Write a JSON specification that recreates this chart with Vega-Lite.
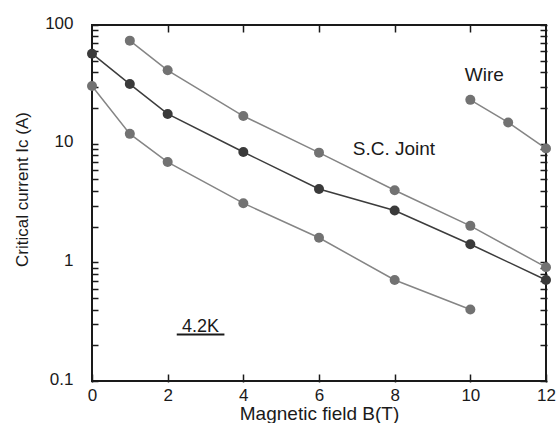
{
  "$schema": "https://vega.github.io/schema/vega-lite/v6.json",
  "width": 454,
  "height": 356,
  "autosize": {"type": "none"},
  "padding": {"left": 92, "top": 25, "right": 10, "bottom": 42},
  "background": "white",
  "config": {
    "view": {"stroke": "#1a1a1a", "strokeWidth": 2},
    "font": "Liberation Sans",
    "axis": {"grid": false, "domain": false, "ticks": true, "zindex": 1, "tickColor": "#1a1a1a", "tickWidth": 1.5, "labelColor": "#1a1a1a", "titleColor": "#1a1a1a", "titleFontWeight": "normal", "labelFont": "Liberation Sans", "titleFont": "Liberation Sans"}
  },
  "datasets": {
    "curves": [
      {"series": "upper", "B": 1, "Ic": 73.8},
      {"series": "upper", "B": 2, "Ic": 41.5},
      {"series": "upper", "B": 4, "Ic": 17.1},
      {"series": "upper", "B": 6, "Ic": 8.4},
      {"series": "upper", "B": 8, "Ic": 4.05},
      {"series": "upper", "B": 10, "Ic": 2.03},
      {"series": "upper", "B": 12, "Ic": 0.91},
      {"series": "joint", "B": 0, "Ic": 57.3},
      {"series": "joint", "B": 1, "Ic": 31.8},
      {"series": "joint", "B": 2, "Ic": 17.8},
      {"series": "joint", "B": 4, "Ic": 8.5},
      {"series": "joint", "B": 6, "Ic": 4.15},
      {"series": "joint", "B": 8, "Ic": 2.73},
      {"series": "joint", "B": 10, "Ic": 1.42},
      {"series": "joint", "B": 12, "Ic": 0.71},
      {"series": "lower", "B": 0, "Ic": 30.6},
      {"series": "lower", "B": 1, "Ic": 12.1},
      {"series": "lower", "B": 2, "Ic": 7.0},
      {"series": "lower", "B": 4, "Ic": 3.15},
      {"series": "lower", "B": 6, "Ic": 1.61},
      {"series": "lower", "B": 8, "Ic": 0.71},
      {"series": "lower", "B": 10, "Ic": 0.4},
      {"series": "wire", "B": 10, "Ic": 23.4},
      {"series": "wire", "B": 11, "Ic": 15.1},
      {"series": "wire", "B": 12, "Ic": 9.1}
    ]
  },
  "layer": [
    {
      "data": {"name": "curves"},
      "mark": {"type": "line", "strokeWidth": 1.5},
      "encoding": {
        "x": {
          "field": "B", "type": "quantitative",
          "scale": {"domain": [0, 12], "nice": false, "zero": false},
          "axis": {
            "orient": "bottom", "values": [0, 2, 4, 6, 8, 10, 12], "offset": -7, "tickSize": 8,
            "labelFontSize": 17, "labelPadding": 18, "labelBaseline": "alphabetic",
            "labelFlush": false, "labelOverlap": false,
            "title": "Magnetic field B(T)", "titleFontSize": 19, "titleY": 45.5,
            "titleBaseline": "alphabetic", "titleAnchor": "middle"
          }
        },
        "y": {
          "field": "Ic", "type": "quantitative",
          "scale": {"type": "log", "domain": [0.1, 100], "nice": false},
          "axis": {
            "orient": "left",
            "values": [0.1, 0.2, 0.3, 0.4, 0.5, 0.6, 0.7, 0.8, 0.9, 1, 2, 3, 4, 5, 6, 7, 8, 9, 10, 20, 30, 40, 50, 60, 70, 80, 90, 100],
            "offset": -6, "tickSize": 7,
            "labelExpr": "indexof([0.1, 1, 10, 100], datum.value) >= 0 ? datum.label : ''",
            "format": "~g",
            "labelFontSize": 17, "labelPadding": 18, "labelBaseline": "middle", "labelOffset": -2,
            "labelFlush": false, "labelOverlap": false,
            "title": "Critical current Ic (A)", "titleFontSize": 17, "titleAngle": -90,
            "titleX": -76, "titleY": 164, "titleBaseline": "middle", "titleAlign": "center"
          }
        },
        "detail": {"field": "series"},
        "color": {
          "field": "series", "type": "nominal",
          "scale": {"domain": ["upper", "joint", "lower", "wire"], "range": ["#858585", "#3c3c3c", "#858585", "#858585"]},
          "legend": null
        }
      }
    },
    {
      "data": {"name": "curves"},
      "mark": {"type": "point", "filled": true, "opacity": 1, "size": 100},
      "encoding": {
        "x": {
          "field": "B", "type": "quantitative",
          "axis": {"orient": "top", "values": [2, 4, 6, 8, 10], "offset": -7, "tickSize": 8, "labels": false, "title": null}
        },
        "y": {
          "field": "Ic", "type": "quantitative",
          "axis": {
            "orient": "right",
            "values": [0.1, 0.2, 0.3, 0.4, 0.5, 0.6, 0.7, 0.8, 0.9, 1, 2, 3, 4, 5, 6, 7, 8, 9, 10, 20, 30, 40, 50, 60, 70, 80, 90, 100],
            "offset": -6, "tickSize": 7,
            "labels": false, "title": null
          }
        },
        "color": {
          "field": "series", "type": "nominal",
          "scale": {"domain": ["upper", "joint", "lower", "wire"], "range": ["#727272", "#3a3a3a", "#727272", "#727272"]},
          "legend": null
        }
      }
    },
    {
      "data": {"values": [{"label": "Wire", "B": 10.37, "Ic": 38}, {"label": "S.C. Joint", "B": 7.98, "Ic": 9.02}]},
      "mark": {"type": "text", "fontSize": 19, "font": "Liberation Sans", "color": "#1a1a1a", "align": "center", "baseline": "middle"},
      "encoding": {
        "x": {"field": "B", "type": "quantitative", "axis": null},
        "y": {"field": "Ic", "type": "quantitative", "axis": null},
        "text": {"field": "label"}
      }
    },
    {
      "data": {"values": [{"label": "4.2K", "B": 2.87, "Ic": 0.283}]},
      "mark": {"type": "text", "fontSize": 18, "font": "Liberation Sans", "color": "#1a1a1a", "align": "center", "baseline": "middle"},
      "encoding": {
        "x": {"field": "B", "type": "quantitative", "axis": null},
        "y": {"field": "Ic", "type": "quantitative", "axis": null},
        "text": {"field": "label"}
      }
    },
    {
      "data": {"values": [{"B0": 2.24, "B1": 3.5, "Ic": 0.247}]},
      "mark": {"type": "rule", "strokeWidth": 2, "color": "#1a1a1a"},
      "encoding": {
        "x": {"field": "B0", "type": "quantitative", "axis": null},
        "x2": {"field": "B1"},
        "y": {"field": "Ic", "type": "quantitative", "axis": null}
      }
    }
  ],
  "resolve": {"scale": {"color": "independent"}}
}
